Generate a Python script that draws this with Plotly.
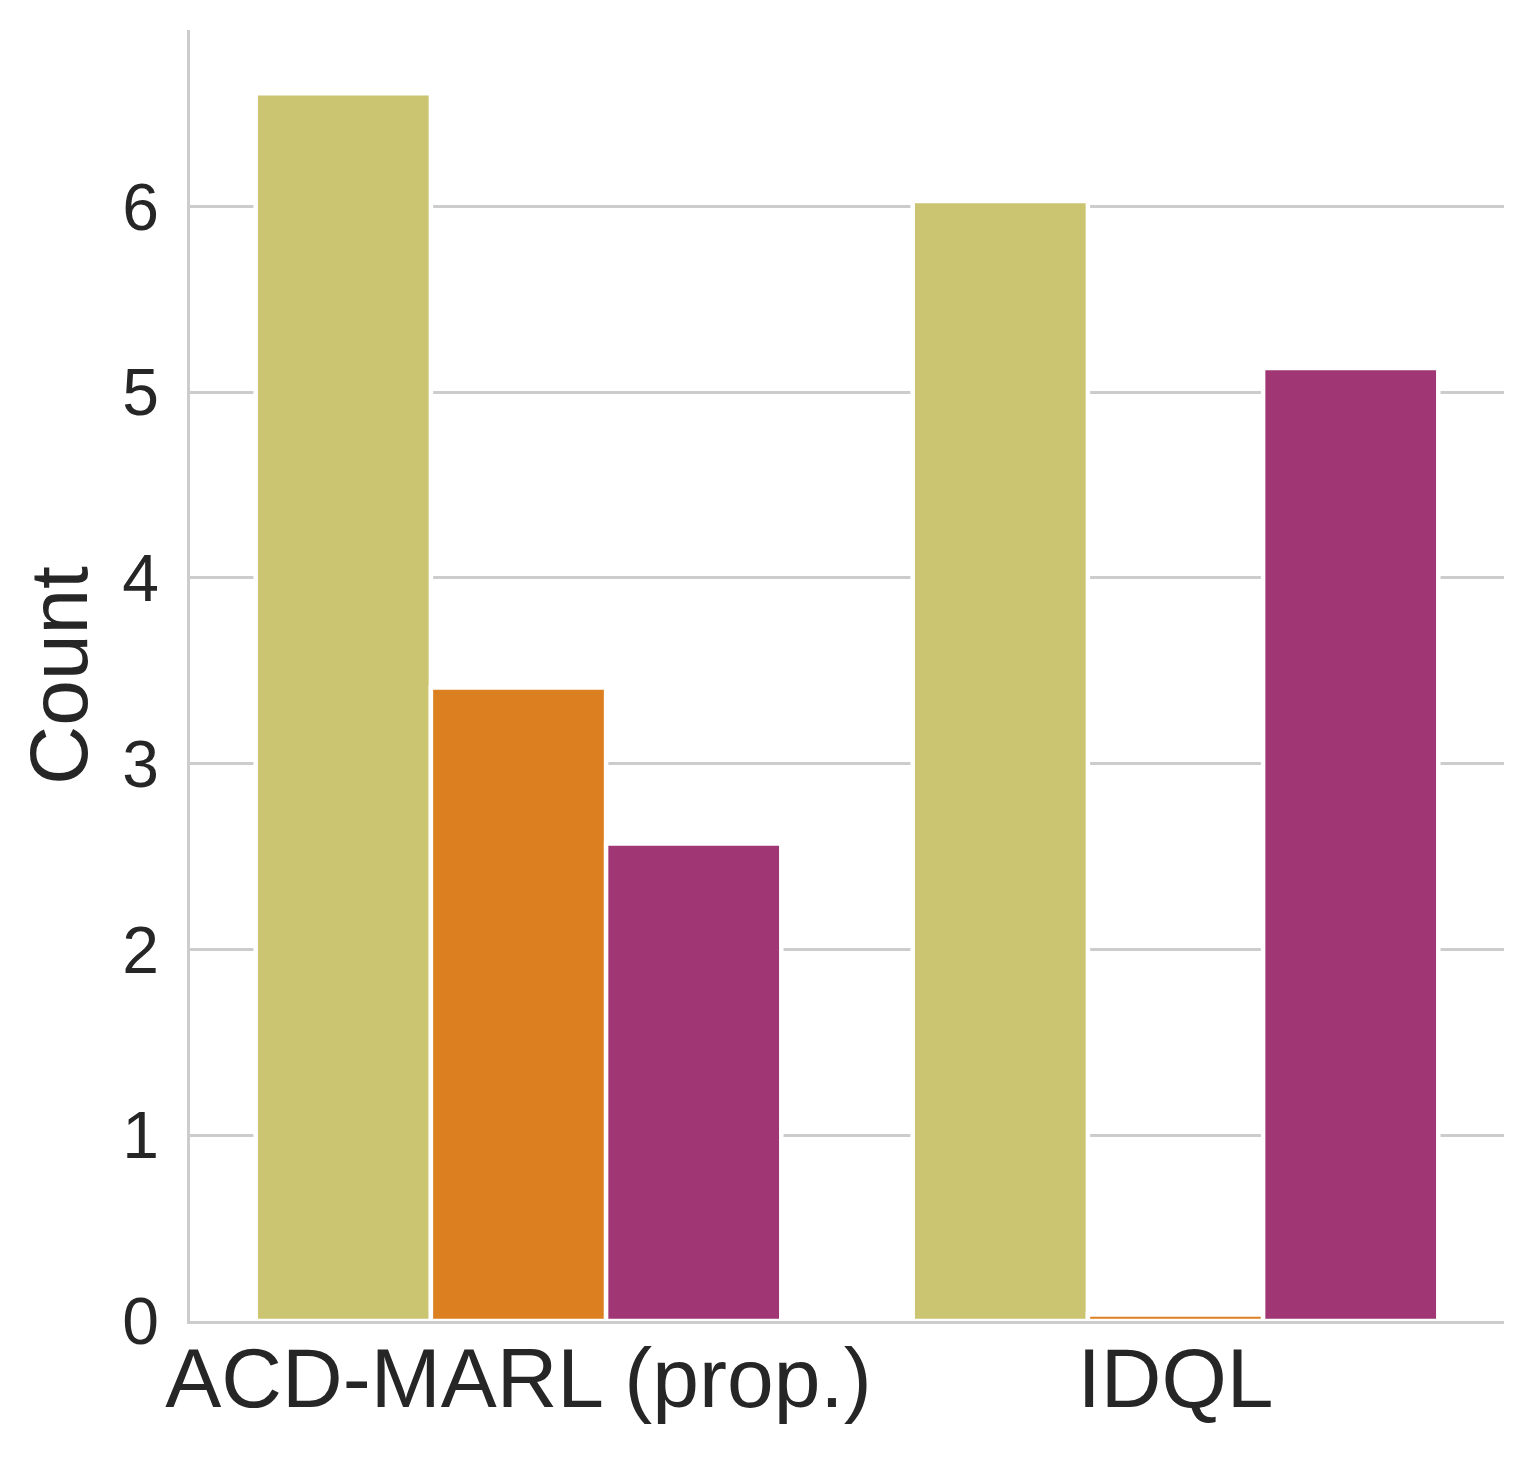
import plotly.graph_objects as go

# Data
methods = ["ACD-MARL (prop.)", "IDQL"]
series_names = ["Group 1", "Group 2", "Group 3"]
group1_counts = [6.61, 6.03]
group2_counts = [3.41, 0.035]
group3_counts = [2.57, 5.13]
series_colors = ["#CBC470", "#DC7F20", "#A03674"]
y_ticks = [0, 1, 2, 3, 4, 5, 6]

text_color = "#262626"
grid_color = "#CCCCCC"

fig = go.Figure()

for name, values, color in zip(series_names,
                               [group1_counts, group2_counts, group3_counts],
                               series_colors):
    fig.add_trace(go.Bar(
        x=methods,
        y=values,
        name=name,
        marker=dict(color=color, line=dict(color="white", width=4.5)),
    ))

# page has an 8px body margin, so margins are shifted to compensate
fig.update_layout(
    width=1533,
    height=1459,
    margin=dict(l=182, r=37, t=22, b=146),
    plot_bgcolor="white",
    paper_bgcolor="white",
    barmode="group",
    bargap=0.2,
    bargroupgap=0,
    showlegend=False,
    font=dict(family="Arial, Liberation Sans, sans-serif", color=text_color),
)

fig.update_xaxes(
    range=[-0.5, 1.5],
    showgrid=False,
    showline=True,
    linecolor=grid_color,
    linewidth=2.5,
    ticks="",
    tickfont=dict(size=84, color=text_color),
    ticklabelstandoff=-18,
)

fig.update_yaxes(
    range=[0, 6.95],
    tickvals=y_ticks,
    showgrid=True,
    gridcolor=grid_color,
    gridwidth=2.5,
    zeroline=False,
    showline=True,
    linecolor=grid_color,
    linewidth=2.5,
    ticks="",
    tickfont=dict(size=66, color=text_color),
    ticklabelstandoff=15,
    automargin=True,
    title=dict(text="Count", font=dict(size=82, color=text_color), standoff=8),
)

fig.write_html("out.html")
